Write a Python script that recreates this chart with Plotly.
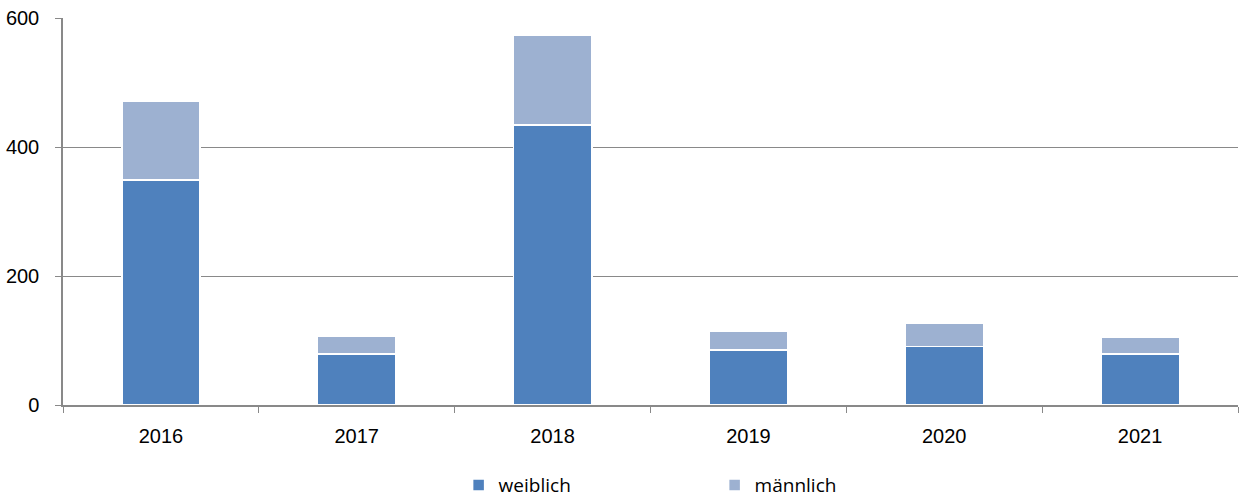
import plotly.graph_objects as go

years = ["2016", "2017", "2018", "2019", "2020", "2021"]
weiblich = [349, 79, 434, 85, 91, 79]
maennlich = [122, 27, 140, 29, 36, 26]

fig = go.Figure()
fig.add_trace(go.Bar(x=years, y=weiblich, name="weiblich",
                     marker=dict(color="#4F81BD", line=dict(color="white", width=1.5))))
fig.add_trace(go.Bar(x=years, y=maennlich, name="männlich",
                     marker=dict(color="#9DB1D1", line=dict(color="white", width=1.5))))

fig.update_layout(
    barmode="stack",
    bargap=0.6,
    width=1239, height=499,
    margin=dict(l=63, r=1, t=18, b=94, autoexpand=False),
    plot_bgcolor="white", paper_bgcolor="white",
    font=dict(family="Liberation Sans, Arial, sans-serif", size=20, color="#000000"),
    legend=dict(orientation="h", x=0.3367, xanchor="left", y=-0.207, yanchor="middle",
                traceorder="normal", entrywidth=211,
                font=dict(family="Open Sans, sans-serif", size=19)),
    showlegend=True,
)
fig.update_xaxes(type="category", tickson="boundaries", ticks="outside", ticklen=6,
                 tickcolor="#898989", showline=True, linecolor="#898989", linewidth=1.5,
                 showgrid=False, tickfont=dict(size=20), automargin=False,
                 ticklabelstandoff=12)
fig.update_yaxes(range=[0, 600], tickvals=[0, 200, 400, 600], ticks="outside", ticklen=6,
                 tickcolor="#898989", showline=True, linecolor="#898989", linewidth=1.5,
                 showgrid=True, gridcolor="#898989", gridwidth=1, zeroline=False,
                 tickfont=dict(size=20), automargin=False, ticklabelstandoff=12)

fig.write_html("out.html", config={"displayModeBar": False},
               post_script="document.body.style.margin='0';document.body.style.overflow='hidden';")
